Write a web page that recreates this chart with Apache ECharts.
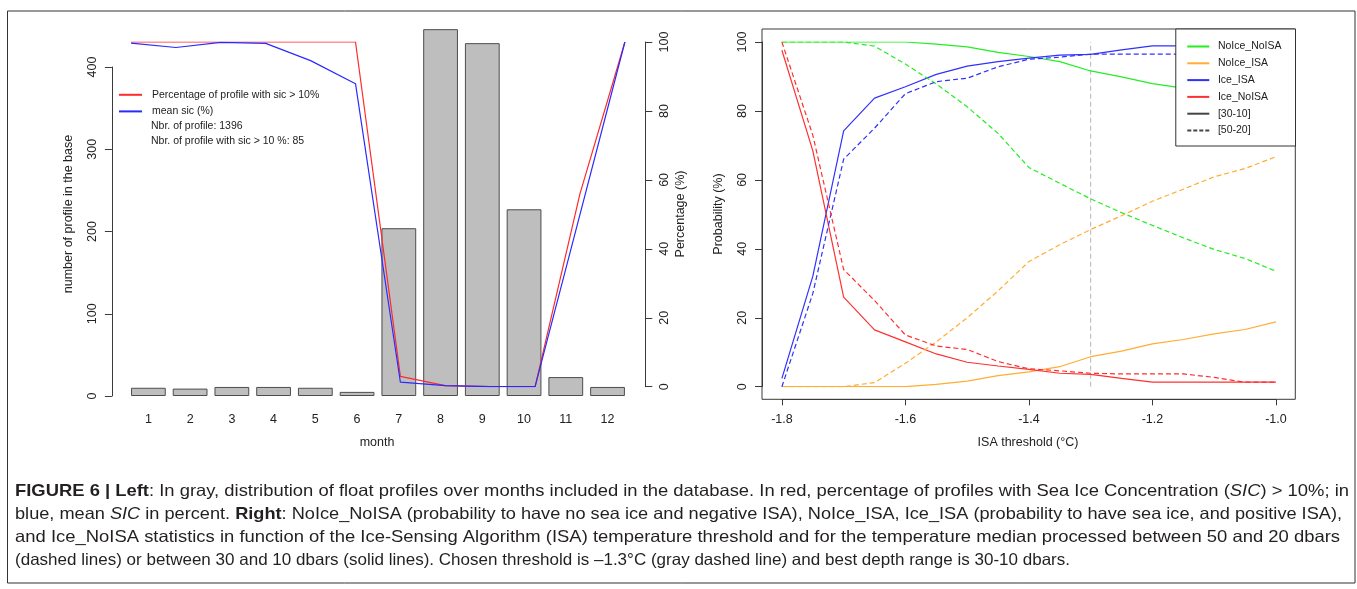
<!DOCTYPE html>
<html>
<head>
<meta charset="utf-8">
<script src="https://cdn.jsdelivr.net/npm/echarts@6/dist/echarts.min.js"></script>
<style>
  html, body { margin: 0; padding: 0; background: #fff; }
  #chart { width: 1357px; height: 589px; }
</style>
</head>
<body>
<div id="chart"></div>
<script>
// ---------- Left panel data ----------
const months = ['1','2','3','4','5','6','7','8','9','10','11','12'];
const profileCounts = [10, 9, 11, 11, 10, 5, 204, 446, 429, 227, 23, 11];
const pctSicAbove10 = [100, 100, 100, 100, 100, 100, 3.0, 0.3, 0, 0, 56, 100];
const meanSic = [99.7, 98.4, 99.9, 99.6, 94.6, 87.9, 1.3, 0.3, 0, 0, 50, 100];
const leftTicksCount = [0, 100, 200, 300, 400];
const leftTicksPct = [0, 20, 40, 60, 80, 100];

// ---------- Right panel data ----------
const isaThreshold = [-1.8, -1.75, -1.7, -1.65, -1.6, -1.55, -1.5, -1.45, -1.4, -1.35, -1.3, -1.25, -1.2, -1.15, -1.1, -1.05, -1.0];
const noIceNoIsa_30_10 = [100, 100, 100, 100, 100, 99.4, 98.6, 97.0, 95.8, 94.3, 91.6, 89.9, 87.9, 86.6, 85.5, 84.5, 83.5];
const noIceNoIsa_50_20 = [100, 100, 100, 98.8, 93.6, 87.8, 81.2, 73.5, 63.6, 59.0, 54.5, 50.5, 46.8, 43.2, 39.8, 37.2, 33.5];
const noIceIsa_30_10 = [0, 0, 0, 0, 0, 0.7, 1.6, 3.2, 4.3, 5.8, 8.7, 10.3, 12.4, 13.7, 15.3, 16.6, 18.8];
const noIceIsa_50_20 = [0, 0, 0, 1.2, 6.8, 13.0, 20.0, 27.8, 36.3, 41.2, 45.6, 49.6, 53.8, 57.3, 60.9, 63.3, 66.7];
const iceIsa_30_10 = [2.4, 32, 74.2, 83.7, 87.0, 90.6, 93.0, 94.3, 95.3, 96.2, 96.4, 97.7, 98.9, 98.9, 98.9, 98.9, 98.9];
const iceIsa_50_20 = [0, 27, 66, 75, 85, 88.5, 89.5, 92.8, 95.0, 95.6, 96.5, 96.5, 96.5, 96.5, 96.5, 96.5, 96.5];
const iceNoIsa_30_10 = [97.6, 68.5, 26, 16.5, 13, 9.5, 7.1, 6.0, 5.0, 3.9, 3.6, 2.4, 1.3, 1.3, 1.3, 1.3, 1.3];
const iceNoIsa_50_20 = [100, 73, 34, 25, 15, 11.8, 10.8, 7.3, 5.2, 4.6, 3.9, 3.7, 3.7, 3.7, 2.7, 1.3, 1.3];
const chosenThreshold = -1.3;
const rightTicksX = [-1.8, -1.6, -1.4, -1.2, -1.0];
const rightTicksY = [0, 20, 40, 60, 80, 100];

// ---------- Caption lines (segments: [text, style]) ----------
const captionLines = [
  [['FIGURE 6 | Left', 'b'], [': In gray, distribution of float profiles over months included in the database. In red, percentage of profiles with Sea Ice Concentration (', ''], ['SIC', 'i'], [') > 10%; in', '']],
  [['blue, mean ', ''], ['SIC', 'i'], [' in percent. ', ''], ['Right', 'b'], [': NoIce_NoISA (probability to have no sea ice and negative ISA), NoIce_ISA, Ice_ISA (probability to have sea ice, and positive ISA),', '']],
  [['and Ice_NoISA statistics in function of the Ice-Sensing Algorithm (ISA) temperature threshold and for the temperature median processed between 50 and 20 dbars', '']],
  [['(dashed lines) or between 30 and 10 dbars (solid lines). Chosen threshold is \u20131.3\u00b0C (gray dashed line) and best depth range is 30-10 dbars.', '']]
];

const FONT = '"Liberation Sans", Arial, sans-serif';
const AX = '#3a3a3a';
const TXT = '#222';
const DASH = [5, 3];
const CAP_SIZE = 16.5;
const CAP_COLOR = '#231f20';
const capLayout = [ // [left x, right end x, middle y]
  [15, 1349, 491.5], [15, 1342, 514.5], [15, 1340, 537], [15, 1070, 560]
];

function pairs(xs, ys) { return xs.map((x, i) => [x, ys[i]]); }

const measureCtx = document.createElement('canvas').getContext('2d');
function segFont(kind) {
  return (kind === 'b' ? 'bold ' : kind === 'i' ? 'italic ' : '') + CAP_SIZE + 'px ' + FONT;
}
function captionGraphic(line, idx) {
  let w = 0;
  let text = '';
  line.forEach(([t, k]) => {
    measureCtx.font = segFont(k);
    w += measureCtx.measureText(t).width;
    const esc = t.replace(/\{/g, '').replace(/\}/g, '');
    text += k ? '{' + k + '|' + esc + '}' : esc;
  });
  const [x0, x1, y] = capLayout[idx];
  const sx = (x1 - x0) / w;
  return {
    type: 'text', x: x0, y: y, scaleX: sx, scaleY: 1, originX: 0, originY: 0, silent: true,
    style: {
      text: text, font: CAP_SIZE + 'px ' + FONT, fill: CAP_COLOR, textVerticalAlign: 'middle',
      rich: {
        b: { fontWeight: 'bold', fontSize: CAP_SIZE, fontFamily: FONT, fill: CAP_COLOR },
        i: { fontStyle: 'italic', fontSize: CAP_SIZE, fontFamily: FONT, fill: CAP_COLOR }
      }
    }
  };
}

const chart = echarts.init(document.getElementById('chart'), null, { renderer: 'canvas' });

const commonAxisLabel = { color: TXT, fontFamily: FONT, fontSize: 12.5 };

const option = {
  animation: false,
  backgroundColor: '#fff',
  textStyle: { fontFamily: FONT },
  grid: [
    { left: 127.5, right: 1357 - 628.4, top: 67, bottom: 589 - 396 },
    { left: 131, right: 1357 - 624.9, top: 42, bottom: 589 - 386.7 },
    { left: 781.9, right: 1357 - 1275.9, top: 42, bottom: 589 - 386.7 }
  ],
  xAxis: [
    { gridIndex: 0, type: 'category', data: months,
      axisLine: { show: false }, axisTick: { show: false },
      axisLabel: Object.assign({ margin: 17 }, commonAxisLabel) },
    { gridIndex: 1, type: 'value', min: 1, max: 12, show: false },
    { gridIndex: 2, type: 'value', min: rightTicksX[0], max: rightTicksX[rightTicksX.length - 1], interval: 0.2,
      offset: 12.6,
      axisLine: { show: true, onZero: false, lineStyle: { color: AX, width: 1 } },
      axisTick: { show: true, length: 6, lineStyle: { color: AX } },
      splitLine: { show: false },
      axisLabel: Object.assign({ margin: 13.5, formatter: v => v.toFixed(1) }, commonAxisLabel) }
  ],
  yAxis: [
    { gridIndex: 0, type: 'value', min: 0, max: 400, interval: 100, offset: 15.6,
      axisLine: { show: true, lineStyle: { color: AX } },
      axisTick: { show: true, length: 7, lineStyle: { color: AX } },
      splitLine: { show: false },
      axisLabel: Object.assign({ rotate: 90, margin: 13 }, commonAxisLabel) },
    { gridIndex: 1, type: 'value', position: 'right', min: 0, max: 100, interval: 20, offset: 20.4,
      axisLine: { show: true, lineStyle: { color: AX } },
      axisTick: { show: true, length: 7, lineStyle: { color: AX } },
      splitLine: { show: false },
      axisLabel: Object.assign({ rotate: 90, margin: 13 }, commonAxisLabel) },
    { gridIndex: 2, type: 'value', min: 0, max: 100, interval: 20, offset: 19.9,
      axisLine: { show: true, onZero: false, lineStyle: { color: AX } },
      axisTick: { show: true, length: 7, lineStyle: { color: AX } },
      splitLine: { show: false },
      axisLabel: Object.assign({ rotate: 90, margin: 12.5 }, commonAxisLabel) }
  ],
  legend: [
    { data: ['Percentage of profile with sic > 10%', 'mean sic (%)'],
      orient: 'vertical', left: 118, top: 89.3, padding: 0,
      itemWidth: 23, itemHeight: 10, itemGap: 5.6,
      itemStyle: { opacity: 0 },
      textStyle: { fontFamily: FONT, fontSize: 10.5, color: TXT, padding: [0, 0, 0, 5] } },
    { data: ['NoIce_NoISA', 'NoIce_ISA', 'Ice_ISA', 'Ice_NoISA', '[30-10]', '[50-20]'],
      orient: 'vertical', right: 61.5, top: 29, padding: [12, 14, 10, 10.5],
      itemWidth: 22, itemHeight: 10, itemGap: 5.8,
      itemStyle: { opacity: 0 },
      backgroundColor: '#fff', borderColor: '#333', borderWidth: 1, borderRadius: 0,
      textStyle: { fontFamily: FONT, fontSize: 10.5, color: TXT, padding: [0, 0, 0, 3.6] } }
  ],
  series: [
    { type: 'bar', name: 'profiles', xAxisIndex: 0, yAxisIndex: 0, data: profileCounts,
      barCategoryGap: '16.7%', clip: false,
      itemStyle: { color: '#bebebe', borderColor: '#4d4d4d', borderWidth: 1 } },
    { type: 'line', name: 'Percentage of profile with sic > 10%', xAxisIndex: 1, yAxisIndex: 1,
      data: pairs(months.map(Number), pctSicAbove10), symbol: 'none',
      lineStyle: { color: '#ff2a2a', width: 1.2 }, itemStyle: { color: '#ff2a2a' } },
    { type: 'line', name: 'mean sic (%)', xAxisIndex: 1, yAxisIndex: 1,
      data: pairs(months.map(Number), meanSic), symbol: 'none',
      lineStyle: { color: '#2a2aff', width: 1.2 }, itemStyle: { color: '#2a2aff' } },

    // right panel: solid = [30-10], dashed = [50-20]
    { type: 'line', name: 'NoIce_NoISA', xAxisIndex: 2, yAxisIndex: 2, data: pairs(isaThreshold, noIceNoIsa_30_10),
      symbol: 'none', lineStyle: { color: '#22ee22', width: 1.2 }, itemStyle: { color: '#22ee22' } },
    { type: 'line', name: 'NoIce_ISA', xAxisIndex: 2, yAxisIndex: 2, data: pairs(isaThreshold, noIceIsa_30_10),
      symbol: 'none', lineStyle: { color: '#ffad33', width: 1.2 }, itemStyle: { color: '#ffad33' } },
    { type: 'line', name: 'Ice_ISA', xAxisIndex: 2, yAxisIndex: 2, data: pairs(isaThreshold, iceIsa_30_10),
      symbol: 'none', lineStyle: { color: '#3030ff', width: 1.2 }, itemStyle: { color: '#3030ff' } },
    { type: 'line', name: 'Ice_NoISA', xAxisIndex: 2, yAxisIndex: 2, data: pairs(isaThreshold, iceNoIsa_30_10),
      symbol: 'none', lineStyle: { color: '#ff3030', width: 1.2 }, itemStyle: { color: '#ff3030' } },
    { type: 'line', name: 'NoIce_NoISA', xAxisIndex: 2, yAxisIndex: 2, data: pairs(isaThreshold, noIceNoIsa_50_20),
      symbol: 'none', lineStyle: { color: '#22ee22', width: 1.2, type: DASH }, itemStyle: { color: '#22ee22' } },
    { type: 'line', name: 'NoIce_ISA', xAxisIndex: 2, yAxisIndex: 2, data: pairs(isaThreshold, noIceIsa_50_20),
      symbol: 'none', lineStyle: { color: '#ffad33', width: 1.2, type: DASH }, itemStyle: { color: '#ffad33' } },
    { type: 'line', name: 'Ice_ISA', xAxisIndex: 2, yAxisIndex: 2, data: pairs(isaThreshold, iceIsa_50_20),
      symbol: 'none', lineStyle: { color: '#3030ff', width: 1.2, type: DASH }, itemStyle: { color: '#3030ff' } },
    { type: 'line', name: 'Ice_NoISA', xAxisIndex: 2, yAxisIndex: 2, data: pairs(isaThreshold, iceNoIsa_50_20),
      symbol: 'none', lineStyle: { color: '#ff3030', width: 1.2, type: DASH }, itemStyle: { color: '#ff3030' } },
    { type: 'line', name: 'threshold', xAxisIndex: 2, yAxisIndex: 2,
      data: [[chosenThreshold, rightTicksY[0]], [chosenThreshold, rightTicksY[rightTicksY.length - 1]]],
      symbol: 'none', silent: true, z: 1,
      lineStyle: { color: '#b8b8b8', width: 1, type: DASH } },
    { type: 'line', name: '[30-10]', xAxisIndex: 2, yAxisIndex: 2, data: [], symbol: 'none',
      lineStyle: { color: '#444', width: 1.2 }, itemStyle: { color: '#444' } },
    { type: 'line', name: '[50-20]', xAxisIndex: 2, yAxisIndex: 2, data: [], symbol: 'none',
      lineStyle: { color: '#444', width: 1.2, type: [4, 2] }, itemStyle: { color: '#444' } }
  ],
  graphic: [
    // outer figure frame
    { type: 'rect', silent: true, z: 0, shape: { x: 7.5, y: 11, width: 1347.5, height: 572 },
      style: { fill: 'none', stroke: '#333', lineWidth: 1 } },
    // right plot box
    { type: 'rect', silent: true, z: 1, shape: { x: 762, y: 29, width: 533.3, height: 370.3 },
      style: { fill: 'none', stroke: AX, lineWidth: 1 } },
    // axis titles
    { type: 'text', x: 68.5, y: 214, rotation: Math.PI / 2,
      style: { text: 'number of profile in the base', font: '12.5px ' + FONT, fill: TXT, textAlign: 'center', textVerticalAlign: 'middle' } },
    { type: 'text', x: 377, y: 443,
      style: { text: 'month', font: '12.5px ' + FONT, fill: TXT, textAlign: 'center', textVerticalAlign: 'middle' } },
    { type: 'text', x: 681, y: 214, rotation: Math.PI / 2,
      style: { text: 'Percentage (%)', font: '12.5px ' + FONT, fill: TXT, textAlign: 'center', textVerticalAlign: 'middle' } },
    { type: 'text', x: 719, y: 214, rotation: Math.PI / 2,
      style: { text: 'Probability (%)', font: '12.5px ' + FONT, fill: TXT, textAlign: 'center', textVerticalAlign: 'middle' } },
    { type: 'text', x: 1028, y: 443,
      style: { text: 'ISA threshold (°C)', font: '12.5px ' + FONT, fill: TXT, textAlign: 'center', textVerticalAlign: 'middle' } },
    // extra legend lines (left panel)
    { type: 'text', x: 151, y: 125.7,
      style: { text: 'Nbr. of profile: 1396', font: '10.5px ' + FONT, fill: TXT, textVerticalAlign: 'middle' } },
    { type: 'text', x: 151, y: 141,
      style: { text: 'Nbr. of profile with sic > 10 %: 85', font: '10.5px ' + FONT, fill: TXT, textVerticalAlign: 'middle' } }
  ].concat(captionLines.map(captionGraphic))
};

chart.setOption(option);
</script>
</body>
</html>
